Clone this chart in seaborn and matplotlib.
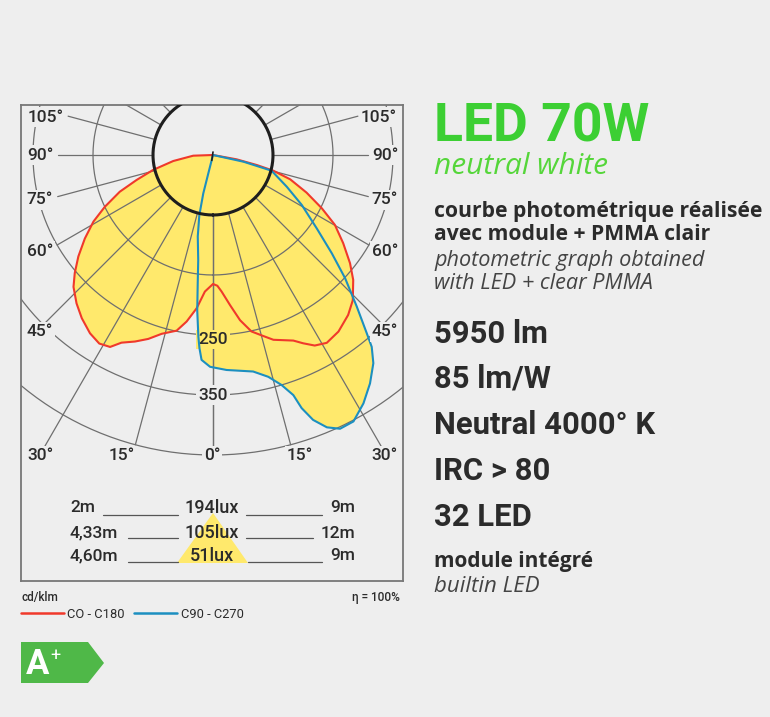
import numpy as np
import pandas as pd
import seaborn as sns
import matplotlib.pyplot as plt
from matplotlib.lines import Line2D
from matplotlib.patches import Polygon

# courbes (angle en degres, rayon en unites de grille)
c0_angle = [0, 79.6, 77.1, 75.4, 72.5, 68.1, 63.9, 60.2, 55.9, 51.7, 48.3, 43.9, 40.2, 35.4, 31.2, 28.1, 25.6, 23.4,
            18.1, 15.5, 12.3, 9.3, 6.5, 3.6, 1.9, 0,
            -3.4, -6.1, -9, -11.7, -16, -19.4, -22.7, -26, -28.2, -31.1, -34.6, -38.8, -42.6, -46.6, -49.5, -53,
            -56.9, -60.9, -64.4, -68.5, -71.9, -76, -81.4, -88, 0]
c0_radius = [0, 40, 75, 104, 135, 168, 202, 234, 262, 291, 313, 336, 349, 361, 366, 360, 348, 337,
             324, 313, 301, 279, 252, 228, 218, 215,
             228, 257, 281, 299, 310, 325, 337, 348, 363, 367, 361, 349, 336, 320, 303, 281,
             255, 228, 200, 167, 134, 103, 67, 33, 0]
c90_angle = [0, -14.3, -14.2, -12.8, -10.6, -8, -6.8, -5.8, -4.6, -4, -3.2, -0.8, 3.6, 10.5, 14, 16.6, 18.5, 19.3,
             20.7, 22.7, 24.9, 27.8, 31.2, 34.5, 37.6, 39.6, 40.8, 43.5, 47, 50.4, 54.7, 60.6, 66.7, 75, 77.6, 0]
c90_radius = [0, 32, 66, 103, 138, 177, 215, 260, 304, 323, 342, 353, 359, 367, 381, 400, 422, 447,
              472, 492, 503, 502, 484, 462, 438, 415, 392, 348, 301, 257, 212, 170, 134, 101, 52, 0]

ring_radius = [100, 200, 300, 400, 500]
ring_labels = {300: "250", 400: "350"}
spoke_angle = [0, 15, 30, 45, 60, 75, 90, 105, 120, 135]
spoke_end = [500, 500, 570, 400, 300, 268, 258, 250, 400, 400]

table_left = ["2m", "4,33m", "4,60m"]
table_mid = ["194lux", "105lux", "51lux"]
table_right = ["9m", "12m", "9m"]
specs = ["5950 lm", "85 lm/W", "Neutral 4000° K", "IRC > 80", "32 LED"]

BG = "#eeeeee"
YELLOW = "#ffe96c"
GRID = "#6f6f6f"
INK = "#2b2b2b"
SOFT = "#444444"
FONT = ["Roboto", "DejaVu Sans"]
WIDE = ["Open Sans", "DejaVu Sans"]

sns.set_theme(style="white", rc={"figure.facecolor": BG, "axes.facecolor": BG})
plt.rcParams["font.family"] = FONT
plt.rcParams["lines.solid_joinstyle"] = "round"

W, H = 770, 717
fig = plt.figure(figsize=(W / 100, H / 100), dpi=100)


def fx(x):
    return x / W


def fy(y):
    return 1 - y / H


def label(x, y, s, size=12.5, weight="medium", color=INK, ha="center", box=None, **kw):
    bbox = dict(facecolor=box, edgecolor="none", pad=1.5) if box else None
    return fig.text(fx(x), fy(y), s, fontsize=size, fontweight=weight, color=color, ha=ha, va="center",
                    bbox=bbox, **kw)


def to_xy(angle, radius):
    a = np.radians(angle)
    return np.array(radius) * np.sin(a), -np.array(radius) * np.cos(a)


# cadre du graphique : 0.6 px par unite, centre en (213, 155)
ax = fig.add_axes([fx(21), fy(581), (403 - 21) / W, (581 - 105) / H])
ax.set_xlim((21 - 213) / 0.6, (403 - 213) / 0.6)
ax.set_ylim((155 - 581) / 0.6, (155 - 105) / 0.6)
ax.set_xticks([])
ax.set_yticks([])
for s in ax.spines.values():
    s.set_color("#777777")
    s.set_linewidth(1.3)

c0 = pd.DataFrame(dict(zip("xy", to_xy(c0_angle, c0_radius))))
c90 = pd.DataFrame(dict(zip("xy", to_xy(c90_angle, c90_radius))))

# surfaces jaunes
ax.fill(c0.x, c0.y, color=YELLOW, lw=0, zorder=1)
ax.fill(c90.x, c90.y, color=YELLOW, lw=0, zorder=1)

# grille
t = np.linspace(0, 360, 361)
for r in ring_radius:
    x, y = to_xy(t, np.full_like(t, r))
    ax.plot(x, y, color=GRID, lw=0.9, zorder=2)
for a, e in zip(spoke_angle, spoke_end):
    for sign in (1, -1):
        x, y = to_xy(sign * a, np.array([100, e]))
        ax.plot(x, y, color=GRID, lw=0.9, zorder=2)

# triangle du tableau
tx = [(177 - 213) / 0.6, 0, (248 - 213) / 0.6]
ty = [(155 - 563) / 0.6, (155 - 513) / 0.6, (155 - 563) / 0.6]
ax.fill(tx, ty, color=YELLOW, lw=0, zorder=1)

sns.lineplot(data=c0, x="x", y="y", sort=False, estimator=None, color="#f0392b", lw=1.5, ax=ax, zorder=4)
sns.lineplot(data=c90, x="x", y="y", sort=False, estimator=None, color="#1c8fc0", lw=1.5, ax=ax, zorder=5)
ax.set_xlabel("")
ax.set_ylabel("")

# cercle noir et repere central
x, y = to_xy(t, np.full_like(t, 100))
ax.plot(x, y, color="#1e1e1e", lw=2.2, zorder=6)
ax.plot([0, -2], [5, -9], color="#1e1e1e", lw=1.2, zorder=6)

# etiquettes des anneaux
for r, s in ring_labels.items():
    box = YELLOW if s == "250" else BG
    ax.text(0, -r - 8 if s == "250" else -r, s, fontsize=12.5, fontweight="medium", color=INK, ha="center",
            va="center", zorder=3, bbox=dict(facecolor=box, edgecolor="none", pad=1.5))

# etiquettes d'angle
for s, y in [("90°", 155), ("75°", 200), ("60°", 251), ("45°", 332), ("30°", 456)]:
    label(40, y, s, box=BG)
    label(385, y, s, box=BG)
label(46, 117, "105°", box=BG)
label(379, 117, "105°", box=BG)
label(122, 456, "15°", box=BG)
label(300, 456, "15°", box=BG)
label(212, 456, "0°", box=BG)

# tableau
for i, y in enumerate([508, 533, 556]):
    label(70, y, table_left[i], ha="left")
    label(212, y, table_mid[i], size=13)
    label(355, y, table_right[i], ha="right")
for y, a, b, c, d in [(515, 103, 178, 246, 322), (538, 128, 178, 246, 313), (562, 128, 178, 248, 322)]:
    for x0, x1 in ((a, b), (c, d)):
        fig.add_artist(Line2D([fx(x0), fx(x1)], [fy(y), fy(y)], color="#555555", lw=0.9))

# legende
label(21, 598, "cd/klm", size=8.5, ha="left")
label(400, 598, "η = 100%", size=8.5, ha="right")
fig.add_artist(Line2D([fx(21), fx(64)], [fy(613), fy(613)], color="#f0392b", lw=1.8))
fig.add_artist(Line2D([fx(134), fx(177)], [fy(613), fy(613)], color="#1c8fc0", lw=1.8))
label(67, 614, "CO - C180", size=9.3, weight="normal", ha="left")
label(181, 614, "C90 - C270", size=9.3, weight="normal", ha="left")

# classe energetique
badge = [(21, 642), (88, 642), (104, 663), (88, 683), (21, 683)]
fig.add_artist(Polygon([(fx(a), fy(b)) for a, b in badge], closed=True, transform=fig.transFigure,
                       facecolor="#4fb848", edgecolor="none"))
label(38, 664, "A", size=25, weight="bold", color="white")
label(55, 656, "+", size=13, weight="normal", color="white")

# colonne de droite
GREEN = "#3ccf33"
label(434, 127, "LED 70W", size=38.5, weight="bold", color=GREEN, ha="left")
label(434, 166, "neutral white", size=21.5, weight="normal", color="#55d63a", ha="left", style="italic", family=WIDE)
label(434, 211, "courbe photométrique réalisée", size=15.2, weight="bold", ha="left", family=WIDE)
label(434, 235, "avec module + PMMA clair", size=15.2, weight="bold", ha="left", family=WIDE)
label(434, 260, "photometric graph obtained", size=15.6, weight="normal", color=SOFT, ha="left", style="italic", family=WIDE)
label(434, 284, "with LED + clear PMMA", size=15.6, weight="normal", color=SOFT, ha="left", style="italic", family=WIDE)
for s, y in zip(specs, [334, 379, 425, 471, 517]):
    label(434, y, s, size=22.3, weight="bold", ha="left")
label(434, 562, "module intégré", size=15, weight="bold", ha="left", family=WIDE)
label(434, 586, "builtin LED", size=16, weight="normal", color=SOFT, ha="left", style="italic", family=WIDE)

fig.savefig("out.png", dpi=100, facecolor=BG)
